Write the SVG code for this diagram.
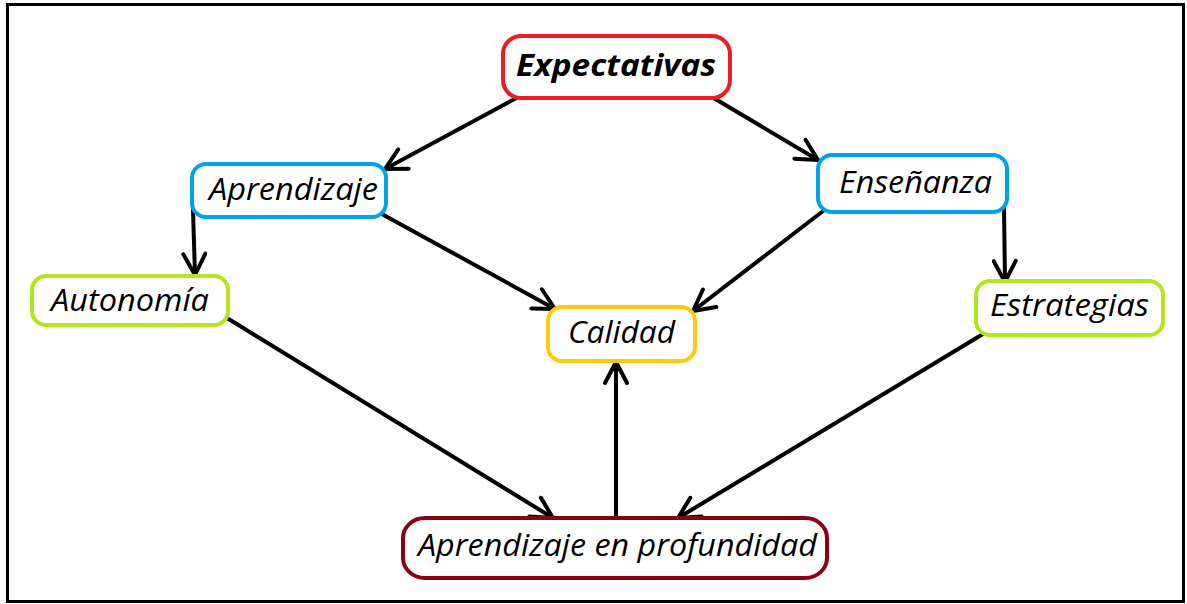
<svg xmlns="http://www.w3.org/2000/svg" width="1187" height="604" viewBox="0 0 1187 604">
<style>
.box{fill:#fff;stroke-width:4}
.t{font-family:"Open Sans","Liberation Sans",sans-serif;font-style:italic;font-size:31px;fill:#000;text-anchor:start}
.c{fill:none;stroke:#000;stroke-width:4;stroke-linecap:round}
</style>
<defs>
<marker id="ah" markerUnits="userSpaceOnUse" viewBox="0 0 26 26" refX="24" refY="13" markerWidth="26" markerHeight="26" orient="auto">
<path d="M3,2 L24,13 L3,24" fill="none" stroke="#000" stroke-width="4" stroke-linecap="round" stroke-linejoin="round"/>
</marker>
</defs>
<rect width="1187" height="604" fill="#fff"/>
<rect x="7.5" y="4.5" width="1176" height="597" fill="none" stroke="#000" stroke-width="3"/>
<g id="connectors">
<line class="c" x1="520" y1="96" x2="385" y2="169" marker-end="url(#ah)"/>
<line class="c" x1="712" y1="97" x2="818" y2="160" marker-end="url(#ah)"/>
<line class="c" x1="193" y1="210" x2="195" y2="275" marker-end="url(#ah)"/>
<line class="c" x1="380" y1="213" x2="555" y2="309" marker-end="url(#ah)"/>
<line class="c" x1="827" y1="208" x2="693" y2="311" marker-end="url(#ah)"/>
<line class="c" x1="1004" y1="208" x2="1005" y2="282" marker-end="url(#ah)"/>
<line class="c" x1="227" y1="318" x2="553" y2="518" marker-end="url(#ah)"/>
<line class="c" x1="988" y1="331" x2="678" y2="518" marker-end="url(#ah)"/>
<line class="c" x1="616" y1="517" x2="616" y2="362" marker-end="url(#ah)"/>
</g>
<g id="expectativas">
<rect class="box" x="503" y="36" width="227" height="62" rx="18" stroke="#ED1C24"/>
<text class="t" x="516" y="76" font-weight="bold" font-size="33" textLength="200" lengthAdjust="spacingAndGlyphs">Expectativas</text>
</g>
<g id="aprendizaje">
<rect class="box" x="192" y="164" width="194" height="53" rx="14" stroke="#00A2E8"/>
<text class="t" x="209" y="200" textLength="169" lengthAdjust="spacingAndGlyphs">Aprendizaje</text>
</g>
<g id="ensenanza">
<rect class="box" x="818" y="155" width="189" height="57" rx="14" stroke="#00A2E8"/>
<text class="t" x="839" y="193" textLength="153" lengthAdjust="spacingAndGlyphs">Enseñanza</text>
</g>
<g id="autonomia">
<rect class="box" x="32" y="276" width="196" height="49" rx="14" stroke="#B5E61D"/>
<text class="t" x="51" y="311" textLength="158" lengthAdjust="spacingAndGlyphs">Autonomía</text>
</g>
<g id="estrategias">
<rect class="box" x="976" y="281" width="187" height="54" rx="14" stroke="#B5E61D"/>
<text class="t" x="990" y="316" textLength="159" lengthAdjust="spacingAndGlyphs">Estrategias</text>
</g>
<g id="calidad">
<rect class="box" x="548" y="307" width="147" height="54" rx="14" stroke="#FFC90E"/>
<text class="t" x="568" y="343" textLength="107" lengthAdjust="spacingAndGlyphs">Calidad</text>
</g>
<g id="profundidad">
<rect class="box" x="403" y="518" width="424" height="60" rx="22" ry="20" stroke="#880015"/>
<text class="t" x="418" y="556" textLength="399" lengthAdjust="spacingAndGlyphs">Aprendizaje en profundidad</text>
</g>
</svg>
